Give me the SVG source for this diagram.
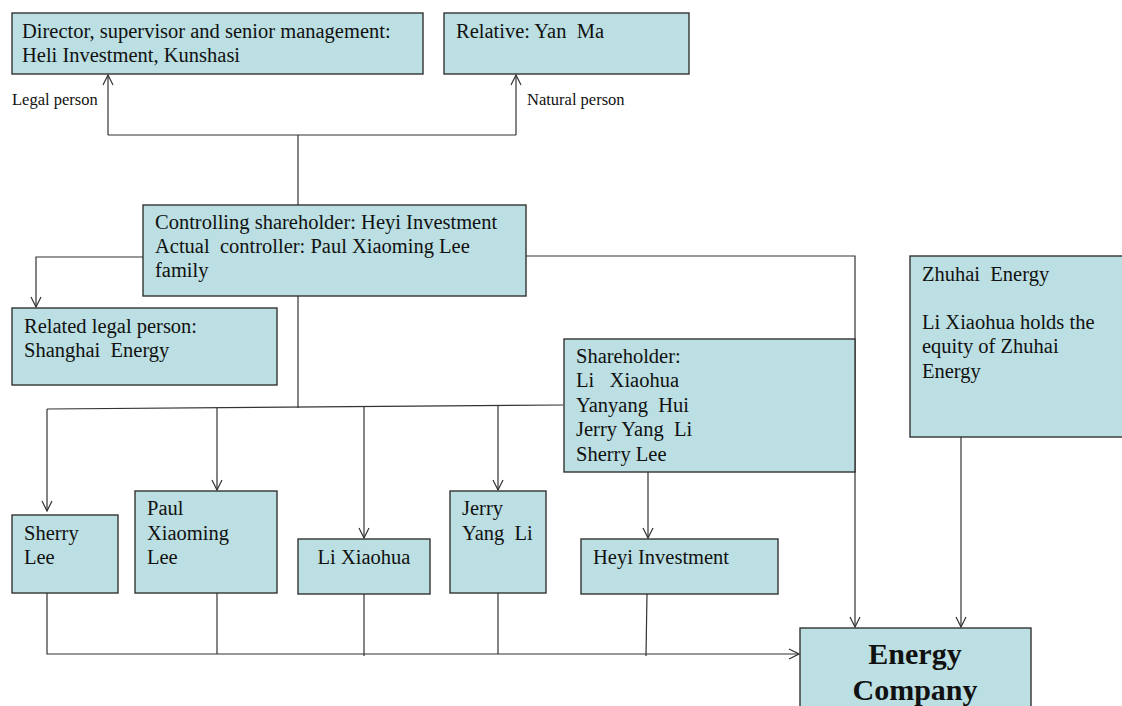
<svg xmlns="http://www.w3.org/2000/svg" width="1122" height="706" viewBox="0 0 1122 706">
<defs>
<style>
.box{fill:#bbdfe2;stroke:#333;stroke-width:1.4}
.t{font-family:"Liberation Serif","Times New Roman",serif;font-size:20.5px;fill:#111;white-space:pre}
.s{font-family:"Liberation Serif","Times New Roman",serif;font-size:16.5px;fill:#111}
.b{font-family:"Liberation Serif","Times New Roman",serif;font-size:30px;font-weight:bold;fill:#111}
.c{fill:none;stroke:#333;stroke-width:1.2}
</style>
<marker id="a" viewBox="0 0 12 12" refX="11" refY="6" markerWidth="12" markerHeight="12" markerUnits="userSpaceOnUse" orient="auto">
<path d="M1,1 L11,6 L1,11" fill="none" stroke="#333" stroke-width="1.2"/>
</marker>
</defs>
<rect width="1122" height="706" fill="#fff"/>
<g id="connectors">
<path class="c" d="M298,205 V135"/>
<path class="c" d="M108,135 H516"/>
<path class="c" d="M108,135 V75" marker-end="url(#a)"/>
<path class="c" d="M516,135 V75" marker-end="url(#a)"/>
<path class="c" d="M143,257 H36 V307" marker-end="url(#a)"/>
<path class="c" d="M526,256 H855 V627" marker-end="url(#a)"/>
<path class="c" d="M298,296 V408"/>
<path class="c" d="M47,409 L563,405"/>
<path class="c" d="M47,409 V511" marker-end="url(#a)"/>
<path class="c" d="M217,408 V490" marker-end="url(#a)"/>
<path class="c" d="M364,407 V538" marker-end="url(#a)"/>
<path class="c" d="M498,406 V490" marker-end="url(#a)"/>
<path class="c" d="M648,472 V538" marker-end="url(#a)"/>
<path class="c" d="M961,437 V627" marker-end="url(#a)"/>
<path class="c" d="M47,592 V654 H799" marker-end="url(#a)"/>
<path class="c" d="M217,592 V654"/>
<path class="c" d="M364,593 V656"/>
<path class="c" d="M498,592 V654"/>
<path class="c" d="M647,593 L646,656"/>
</g>
<g id="director">
<rect class="box" x="12" y="13" width="411" height="61"/>
<text class="t" x="22" y="38">Director, supervisor and senior management:</text>
<text class="t" x="22" y="62">Heli Investment, Kunshasi</text>
</g>
<g id="relative">
<rect class="box" x="444" y="13" width="245" height="61"/>
<text class="t" x="456" y="38">Relative: Yan  Ma</text>
</g>
<g id="labels">
<text class="s" x="12" y="105">Legal person</text>
<text class="s" x="527" y="105">Natural person</text>
</g>
<g id="controlling">
<rect class="box" x="143" y="205" width="383" height="91"/>
<text class="t" x="155" y="229">Controlling shareholder: Heyi Investment</text>
<text class="t" x="155" y="253">Actual  controller: Paul Xiaoming Lee</text>
<text class="t" x="155" y="277">family</text>
</g>
<g id="related">
<rect class="box" x="12" y="308" width="265" height="77"/>
<text class="t" x="24" y="333">Related legal person:</text>
<text class="t" x="24" y="357">Shanghai  Energy</text>
</g>
<g id="shareholder">
<rect class="box" x="564" y="339" width="291" height="133"/>
<text class="t" x="576" y="363">Shareholder:</text>
<text class="t" x="576" y="387">Li   Xiaohua</text>
<text class="t" x="576" y="412">Yanyang  Hui</text>
<text class="t" x="576" y="436">Jerry Yang  Li</text>
<text class="t" x="576" y="461">Sherry Lee</text>
</g>
<g id="zhuhai">
<rect class="box" x="910" y="256" width="214" height="181"/>
<text class="t" x="922" y="281">Zhuhai  Energy</text>
<text class="t" x="922" y="329">Li Xiaohua holds the</text>
<text class="t" x="922" y="353">equity of Zhuhai</text>
<text class="t" x="922" y="378">Energy</text>
</g>
<g id="sherry">
<rect class="box" x="12" y="515" width="106" height="78"/>
<text class="t" x="24" y="540">Sherry</text>
<text class="t" x="24" y="564">Lee</text>
</g>
<g id="paul">
<rect class="box" x="135" y="491" width="142" height="102"/>
<text class="t" x="147" y="515">Paul</text>
<text class="t" x="147" y="540">Xiaoming</text>
<text class="t" x="147" y="564">Lee</text>
</g>
<g id="lixiaohua">
<rect class="box" x="298" y="539" width="132" height="55"/>
<text class="t" x="364" y="564" text-anchor="middle">Li Xiaohua</text>
</g>
<g id="jerry">
<rect class="box" x="450" y="491" width="96" height="102"/>
<text class="t" x="462" y="515">Jerry</text>
<text class="t" x="462" y="540">Yang  Li</text>
</g>
<g id="heyi">
<rect class="box" x="581" y="539" width="197" height="55"/>
<text class="t" x="593" y="564">Heyi Investment</text>
</g>
<g id="energy">
<rect class="box" x="800" y="628" width="231" height="90"/>
<text class="b" x="915" y="664" text-anchor="middle">Energy</text>
<text class="b" x="915" y="700" text-anchor="middle">Company</text>
</g>
</svg>
